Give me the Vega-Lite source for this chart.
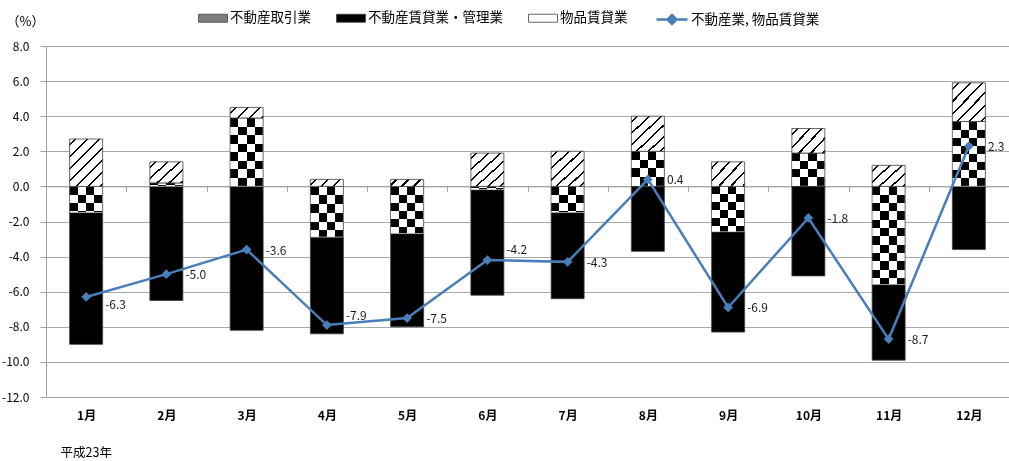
{
  "$schema": "https://vega.github.io/schema/vega-lite/v6.json",
  "width": 963,
  "height": 351,
  "autosize": {"type": "none"},
  "padding": {"left": 46, "top": 46, "right": 0, "bottom": 64},
  "background": "white",
  "config": {
    "font": "Noto Sans CJK JP",
    "view": {"stroke": null},
    "locale": {"number": {"decimal": ".", "thousands": ",", "grouping": [3], "currency": ["", ""], "minus": "-"}},
    "legend": {"labelFontSize": 13.5, "labelColor": "#000000", "labelOffset": 2, "padding": 0, "columnPadding": 23}
  },
  "datasets": {
    "bars": [
      {"month": "1月", "series": "不動産取引業", "value": -1.5},
      {"month": "1月", "series": "不動産賃貸業・管理業", "value": -7.5},
      {"month": "1月", "series": "物品賃貸業", "value": 2.7},
      {"month": "2月", "series": "不動産取引業", "value": 0.2},
      {"month": "2月", "series": "不動産賃貸業・管理業", "value": -6.5},
      {"month": "2月", "series": "物品賃貸業", "value": 1.2},
      {"month": "3月", "series": "不動産取引業", "value": 3.9},
      {"month": "3月", "series": "不動産賃貸業・管理業", "value": -8.2},
      {"month": "3月", "series": "物品賃貸業", "value": 0.6},
      {"month": "4月", "series": "不動産取引業", "value": -2.9},
      {"month": "4月", "series": "不動産賃貸業・管理業", "value": -5.5},
      {"month": "4月", "series": "物品賃貸業", "value": 0.4},
      {"month": "5月", "series": "不動産取引業", "value": -2.7},
      {"month": "5月", "series": "不動産賃貸業・管理業", "value": -5.3},
      {"month": "5月", "series": "物品賃貸業", "value": 0.4},
      {"month": "6月", "series": "不動産取引業", "value": -0.2},
      {"month": "6月", "series": "不動産賃貸業・管理業", "value": -6.0},
      {"month": "6月", "series": "物品賃貸業", "value": 1.9},
      {"month": "7月", "series": "不動産取引業", "value": -1.5},
      {"month": "7月", "series": "不動産賃貸業・管理業", "value": -4.9},
      {"month": "7月", "series": "物品賃貸業", "value": 2.0},
      {"month": "8月", "series": "不動産取引業", "value": 2.0},
      {"month": "8月", "series": "不動産賃貸業・管理業", "value": -3.7},
      {"month": "8月", "series": "物品賃貸業", "value": 2.0},
      {"month": "9月", "series": "不動産取引業", "value": -2.6},
      {"month": "9月", "series": "不動産賃貸業・管理業", "value": -5.7},
      {"month": "9月", "series": "物品賃貸業", "value": 1.4},
      {"month": "10月", "series": "不動産取引業", "value": 1.9},
      {"month": "10月", "series": "不動産賃貸業・管理業", "value": -5.1},
      {"month": "10月", "series": "物品賃貸業", "value": 1.4},
      {"month": "11月", "series": "不動産取引業", "value": -5.6},
      {"month": "11月", "series": "不動産賃貸業・管理業", "value": -4.3},
      {"month": "11月", "series": "物品賃貸業", "value": 1.2},
      {"month": "12月", "series": "不動産取引業", "value": 3.7},
      {"month": "12月", "series": "不動産賃貸業・管理業", "value": -3.6},
      {"month": "12月", "series": "物品賃貸業", "value": 2.2}
    ],
    "totals": [
      {"month": "1月", "value": -6.3},
      {"month": "2月", "value": -5.0},
      {"month": "3月", "value": -3.6},
      {"month": "4月", "value": -7.9},
      {"month": "5月", "value": -7.5},
      {"month": "6月", "value": -4.2},
      {"month": "7月", "value": -4.3},
      {"month": "8月", "value": 0.4},
      {"month": "9月", "value": -6.9},
      {"month": "10月", "value": -1.8},
      {"month": "11月", "value": -8.7},
      {"month": "12月", "value": 2.3}
    ]
  },
  "encoding": {
    "x": {
      "field": "month", "type": "ordinal",
      "sort": ["1月","2月","3月","4月","5月","6月","7月","8月","9月","10月","11月","12月"],
      "scale": {"paddingInner": 0, "paddingOuter": 0},
      "axis": {
        "title": "平成23年", "orient": "bottom", "offset": -210.6,
        "domainColor": "#a6a6a6", "tickColor": "#a6a6a6", "ticks": true, "tickBand": "extent", "tickSize": 5,
        "labelPadding": 219, "labelAngle": 0, "labelFontSize": 12, "labelFontWeight": 600, "labelColor": "#000000",
        "grid": false,
        "titleX": 14, "titleY": 265.6, "titleAnchor": "start", "titleAlign": "left", "titleBaseline": "middle",
        "titleFontWeight": "normal", "titleFontSize": 12.5, "titleColor": "#000000"
      }
    },
    "y": {
      "field": "value", "type": "quantitative",
      "scale": {"domain": [-12, 8], "nice": false, "zero": false},
      "axis": {
        "title": "（%）", "values": [-12,-10,-8,-6,-4,-2,0,2,4,6,8], "format": ".1f",
        "grid": true, "gridColor": "#a9a9a9", "domainColor": "#a0a0a0", "tickColor": "#a0a0a0", "tickSize": 6,
        "labelPadding": 11, "labelFontSize": 12, "labelColor": "#000000",
        "titleAngle": 0, "titleX": -40, "titleY": -25, "titleAlign": "left", "titleBaseline": "middle",
        "titleFontWeight": "normal", "titleFontSize": 13, "titleColor": "#000000"
      }
    }
  },
  "layer": [
    {
      "data": {"name": "bars"},
      "mark": {"type": "bar", "size": 33, "stroke": "#404040", "strokeWidth": 0.8},
      "encoding": {
        "order": {"field": "series", "type": "ordinal", "sort": "ascending"},
        "fill": {
          "field": "series", "type": "nominal",
          "scale": {"domain": ["不動産取引業", "不動産賃貸業・管理業", "物品賃貸業"], "range": ["#7f7f7f", "#000000", "#ffffff"]},
          "condition": [
            {"test": "datum.series === '不動産取引業'", "value": {"gradient": "linear", "x1": 0, "y1": 0, "x2": 1, "y2": 0, "stops": [
              {"offset": 0, "color": "#000000"}, {"offset": 0.25, "color": "#000000"}, {"offset": 0.25, "color": "#ffffff"}, {"offset": 0.5, "color": "#ffffff"},
              {"offset": 0.5, "color": "#000000"}, {"offset": 0.75, "color": "#000000"}, {"offset": 0.75, "color": "#ffffff"}, {"offset": 1, "color": "#ffffff"}]}},
            {"test": "datum.series === '物品賃貸業' && datum.value < 0.5", "value": {"gradient": "linear", "x1": 0, "y1": 0, "x2": 1.1602, "y2": 0.2469, "stops": [
              {"offset": 0, "color": "#ffffff"}, {"offset": 0.123, "color": "#ffffff"}, {"offset": 0.123, "color": "#000000"}, {"offset": 0.177, "color": "#000000"}, {"offset": 0.177, "color": "#ffffff"},
              {"offset": 0.423, "color": "#ffffff"}, {"offset": 0.423, "color": "#000000"}, {"offset": 0.477, "color": "#000000"}, {"offset": 0.477, "color": "#ffffff"},
              {"offset": 0.723, "color": "#ffffff"}, {"offset": 0.723, "color": "#000000"}, {"offset": 0.777, "color": "#000000"}, {"offset": 0.777, "color": "#ffffff"},
              {"offset": 1, "color": "#ffffff"}]}},
            {"test": "datum.series === '物品賃貸業' && datum.value < 0.8", "value": {"gradient": "linear", "x1": 0, "y1": 0, "x2": 1.197, "y2": 0.381, "stops": [
              {"offset": 0, "color": "#ffffff"}, {"offset": 0.113, "color": "#ffffff"}, {"offset": 0.113, "color": "#000000"}, {"offset": 0.163, "color": "#000000"}, {"offset": 0.163, "color": "#ffffff"},
              {"offset": 0.389, "color": "#ffffff"}, {"offset": 0.389, "color": "#000000"}, {"offset": 0.439, "color": "#000000"}, {"offset": 0.439, "color": "#ffffff"},
              {"offset": 0.665, "color": "#ffffff"}, {"offset": 0.665, "color": "#000000"}, {"offset": 0.715, "color": "#000000"}, {"offset": 0.715, "color": "#ffffff"},
              {"offset": 0.941, "color": "#ffffff"}, {"offset": 0.941, "color": "#000000"}, {"offset": 0.991, "color": "#000000"}, {"offset": 0.991, "color": "#ffffff"},
              {"offset": 1, "color": "#ffffff"}]}},
            {"test": "datum.series === '物品賃貸業' && datum.value < 1.6", "value": {"gradient": "linear", "x1": 0, "y1": 0, "x2": 1.1445, "y2": 0.791, "stops": [
              {"offset": 0, "color": "#ffffff"}, {"offset": 0.088, "color": "#ffffff"}, {"offset": 0.088, "color": "#000000"}, {"offset": 0.127, "color": "#000000"}, {"offset": 0.127, "color": "#ffffff"},
              {"offset": 0.303, "color": "#ffffff"}, {"offset": 0.303, "color": "#000000"}, {"offset": 0.342, "color": "#000000"}, {"offset": 0.342, "color": "#ffffff"},
              {"offset": 0.518, "color": "#ffffff"}, {"offset": 0.518, "color": "#000000"}, {"offset": 0.557, "color": "#000000"}, {"offset": 0.557, "color": "#ffffff"},
              {"offset": 0.733, "color": "#ffffff"}, {"offset": 0.733, "color": "#000000"}, {"offset": 0.772, "color": "#000000"}, {"offset": 0.772, "color": "#ffffff"},
              {"offset": 0.948, "color": "#ffffff"}, {"offset": 0.948, "color": "#000000"}, {"offset": 0.987, "color": "#000000"}, {"offset": 0.987, "color": "#ffffff"},
              {"offset": 1, "color": "#ffffff"}]}},
            {"test": "datum.series === '物品賃貸業' && datum.value < 2.4", "value": {"gradient": "linear", "x1": 0, "y1": 0, "x2": 0.9413, "y2": 1.0524, "stops": [
              {"offset": 0, "color": "#ffffff"}, {"offset": 0.070, "color": "#ffffff"}, {"offset": 0.070, "color": "#000000"}, {"offset": 0.101, "color": "#000000"}, {"offset": 0.101, "color": "#ffffff"},
              {"offset": 0.242, "color": "#ffffff"}, {"offset": 0.242, "color": "#000000"}, {"offset": 0.273, "color": "#000000"}, {"offset": 0.273, "color": "#ffffff"},
              {"offset": 0.414, "color": "#ffffff"}, {"offset": 0.414, "color": "#000000"}, {"offset": 0.445, "color": "#000000"}, {"offset": 0.445, "color": "#ffffff"},
              {"offset": 0.585, "color": "#ffffff"}, {"offset": 0.585, "color": "#000000"}, {"offset": 0.616, "color": "#000000"}, {"offset": 0.616, "color": "#ffffff"},
              {"offset": 0.757, "color": "#ffffff"}, {"offset": 0.757, "color": "#000000"}, {"offset": 0.788, "color": "#000000"}, {"offset": 0.788, "color": "#ffffff"},
              {"offset": 0.929, "color": "#ffffff"}, {"offset": 0.929, "color": "#000000"}, {"offset": 0.960, "color": "#000000"}, {"offset": 0.960, "color": "#ffffff"},
              {"offset": 1, "color": "#ffffff"}]}},
            {"test": "datum.series === '物品賃貸業'", "value": {"gradient": "linear", "x1": 0, "y1": 0, "x2": 0.7956, "y2": 1.1425, "stops": [
              {"offset": 0, "color": "#ffffff"}, {"offset": 0.061, "color": "#ffffff"}, {"offset": 0.061, "color": "#000000"}, {"offset": 0.088, "color": "#000000"}, {"offset": 0.088, "color": "#ffffff"},
              {"offset": 0.210, "color": "#ffffff"}, {"offset": 0.210, "color": "#000000"}, {"offset": 0.237, "color": "#000000"}, {"offset": 0.237, "color": "#ffffff"},
              {"offset": 0.360, "color": "#ffffff"}, {"offset": 0.360, "color": "#000000"}, {"offset": 0.387, "color": "#000000"}, {"offset": 0.387, "color": "#ffffff"},
              {"offset": 0.509, "color": "#ffffff"}, {"offset": 0.509, "color": "#000000"}, {"offset": 0.536, "color": "#000000"}, {"offset": 0.536, "color": "#ffffff"},
              {"offset": 0.658, "color": "#ffffff"}, {"offset": 0.658, "color": "#000000"}, {"offset": 0.685, "color": "#000000"}, {"offset": 0.685, "color": "#ffffff"},
              {"offset": 0.808, "color": "#ffffff"}, {"offset": 0.808, "color": "#000000"}, {"offset": 0.834, "color": "#000000"}, {"offset": 0.834, "color": "#ffffff"},
              {"offset": 0.957, "color": "#ffffff"}, {"offset": 0.957, "color": "#000000"}, {"offset": 0.983, "color": "#000000"}, {"offset": 0.983, "color": "#ffffff"},
              {"offset": 1, "color": "#ffffff"}]}}
          ],
          "legend": {
            "orient": "none", "legendX": 152, "legendY": -43, "direction": "horizontal", "title": null,
            "symbolType": "M-1,-0.276H1V0.276H-1Z", "symbolSize": 841,
            "symbolStrokeColor": "#404040", "symbolStrokeWidth": 0.8
          }
        }
      }
    },
    {
      "data": {"name": "bars"},
      "transform": [{"filter": "datum.series === '不動産取引業'"}],
      "mark": {"type": "bar", "size": 33, "blend": "difference"},
      "encoding": {
        "fill": {
          "condition": [
            {"test": "abs(datum.value) < 0.5", "value": {"gradient": "linear", "x1": 0, "y1": 0, "x2": 0, "y2": 1, "stops": [
              {"offset": 0, "color": "#000000"}, {"offset": 0.5, "color": "#000000"}, {"offset": 0.5, "color": "#ffffff"}, {"offset": 1, "color": "#ffffff"}]}},
            {"test": "abs(datum.value) < 1.7", "value": {"gradient": "linear", "x1": 0, "y1": 0, "x2": 0, "y2": 1, "stops": [
              {"offset": 0, "color": "#000000"}, {"offset": 0.3125, "color": "#000000"}, {"offset": 0.3125, "color": "#ffffff"}, {"offset": 0.625, "color": "#ffffff"},
              {"offset": 0.625, "color": "#000000"}, {"offset": 0.9375, "color": "#000000"}, {"offset": 0.9375, "color": "#ffffff"}, {"offset": 1, "color": "#ffffff"}]}},
            {"test": "abs(datum.value) < 2.3", "value": {"gradient": "linear", "x1": 0, "y1": 0, "x2": 0, "y2": 1, "stops": [
              {"offset": 0, "color": "#000000"}, {"offset": 0.244, "color": "#000000"}, {"offset": 0.244, "color": "#ffffff"}, {"offset": 0.488, "color": "#ffffff"},
              {"offset": 0.488, "color": "#000000"}, {"offset": 0.732, "color": "#000000"}, {"offset": 0.732, "color": "#ffffff"}, {"offset": 0.976, "color": "#ffffff"},
              {"offset": 0.976, "color": "#000000"}, {"offset": 1, "color": "#000000"}]}},
            {"test": "abs(datum.value) < 3.2", "value": {"gradient": "linear", "x1": 0, "y1": 0, "x2": 0, "y2": 1, "stops": [
              {"offset": 0, "color": "#000000"}, {"offset": 0.172, "color": "#000000"}, {"offset": 0.172, "color": "#ffffff"}, {"offset": 0.345, "color": "#ffffff"},
              {"offset": 0.345, "color": "#000000"}, {"offset": 0.517, "color": "#000000"}, {"offset": 0.517, "color": "#ffffff"}, {"offset": 0.69, "color": "#ffffff"},
              {"offset": 0.69, "color": "#000000"}, {"offset": 0.862, "color": "#000000"}, {"offset": 0.862, "color": "#ffffff"}, {"offset": 1, "color": "#ffffff"}]}},
            {"test": "abs(datum.value) < 4.5", "value": {"gradient": "linear", "x1": 0, "y1": 0, "x2": 0, "y2": 1, "stops": [
              {"offset": 0, "color": "#000000"}, {"offset": 0.125, "color": "#000000"}, {"offset": 0.125, "color": "#ffffff"}, {"offset": 0.25, "color": "#ffffff"},
              {"offset": 0.25, "color": "#000000"}, {"offset": 0.375, "color": "#000000"}, {"offset": 0.375, "color": "#ffffff"}, {"offset": 0.5, "color": "#ffffff"},
              {"offset": 0.5, "color": "#000000"}, {"offset": 0.625, "color": "#000000"}, {"offset": 0.625, "color": "#ffffff"}, {"offset": 0.75, "color": "#ffffff"},
              {"offset": 0.75, "color": "#000000"}, {"offset": 0.875, "color": "#000000"}, {"offset": 0.875, "color": "#ffffff"}, {"offset": 1, "color": "#ffffff"}]}}
          ],
          "value": {"gradient": "linear", "x1": 0, "y1": 0, "x2": 0, "y2": 1, "stops": [
            {"offset": 0, "color": "#000000"}, {"offset": 0.085, "color": "#000000"}, {"offset": 0.085, "color": "#ffffff"}, {"offset": 0.169, "color": "#ffffff"},
            {"offset": 0.169, "color": "#000000"}, {"offset": 0.254, "color": "#000000"}, {"offset": 0.254, "color": "#ffffff"}, {"offset": 0.339, "color": "#ffffff"},
            {"offset": 0.339, "color": "#000000"}, {"offset": 0.424, "color": "#000000"}, {"offset": 0.424, "color": "#ffffff"}, {"offset": 0.508, "color": "#ffffff"},
            {"offset": 0.508, "color": "#000000"}, {"offset": 0.593, "color": "#000000"}, {"offset": 0.593, "color": "#ffffff"}, {"offset": 0.678, "color": "#ffffff"},
            {"offset": 0.678, "color": "#000000"}, {"offset": 0.763, "color": "#000000"}, {"offset": 0.763, "color": "#ffffff"}, {"offset": 0.847, "color": "#ffffff"},
            {"offset": 0.847, "color": "#000000"}, {"offset": 0.932, "color": "#000000"}, {"offset": 0.932, "color": "#ffffff"}, {"offset": 1, "color": "#ffffff"}]}
        }
      }
    },
    {
      "data": {"name": "totals"},
      "mark": {"type": "line", "strokeWidth": 2.5},
      "encoding": {
        "stroke": {
          "datum": "不動産業, 物品賃貸業", "type": "nominal",
          "scale": {"range": ["#4a7ebb"]},
          "legend": {
            "orient": "none", "legendX": 609, "legendY": -43.5, "title": null,
            "symbolType": "M-1,0H1M0,-0.29L0.29,0L0,0.29L-0.29,0Z", "symbolSize": 961,
            "symbolStrokeWidth": 2.5, "symbolFillColor": "#4a7ebb"
          }
        }
      }
    },
    {
      "data": {"name": "totals"},
      "mark": {"type": "point", "shape": "diamond", "filled": true, "size": 95, "color": "#4a7ebb", "opacity": 1}
    },
    {
      "data": {"name": "totals"},
      "transform": [{"filter": "indexof(['1月','4月','6月'], datum.month) < 0"}],
      "mark": {"type": "text", "align": "left", "baseline": "middle", "dx": 19, "dy": 1, "fontSize": 12, "color": "#1a1a1a"},
      "encoding": {"text": {"field": "value", "type": "quantitative", "format": ".1f"}}
    },
    {
      "data": {"name": "totals"},
      "transform": [{"filter": "datum.month === '1月'"}],
      "mark": {"type": "text", "align": "left", "baseline": "middle", "dx": 19, "dy": 8, "fontSize": 12, "color": "#1a1a1a"},
      "encoding": {"text": {"field": "value", "type": "quantitative", "format": ".1f"}}
    },
    {
      "data": {"name": "totals"},
      "transform": [{"filter": "datum.month === '4月'"}],
      "mark": {"type": "text", "align": "left", "baseline": "middle", "dx": 19, "dy": -9, "fontSize": 12, "color": "#1a1a1a"},
      "encoding": {"text": {"field": "value", "type": "quantitative", "format": ".1f"}}
    },
    {
      "data": {"name": "totals"},
      "transform": [{"filter": "datum.month === '6月'"}],
      "mark": {"type": "text", "align": "left", "baseline": "middle", "dx": 19, "dy": -10.5, "fontSize": 12, "color": "#1a1a1a"},
      "encoding": {"text": {"field": "value", "type": "quantitative", "format": ".1f"}}
    }
  ]
}
